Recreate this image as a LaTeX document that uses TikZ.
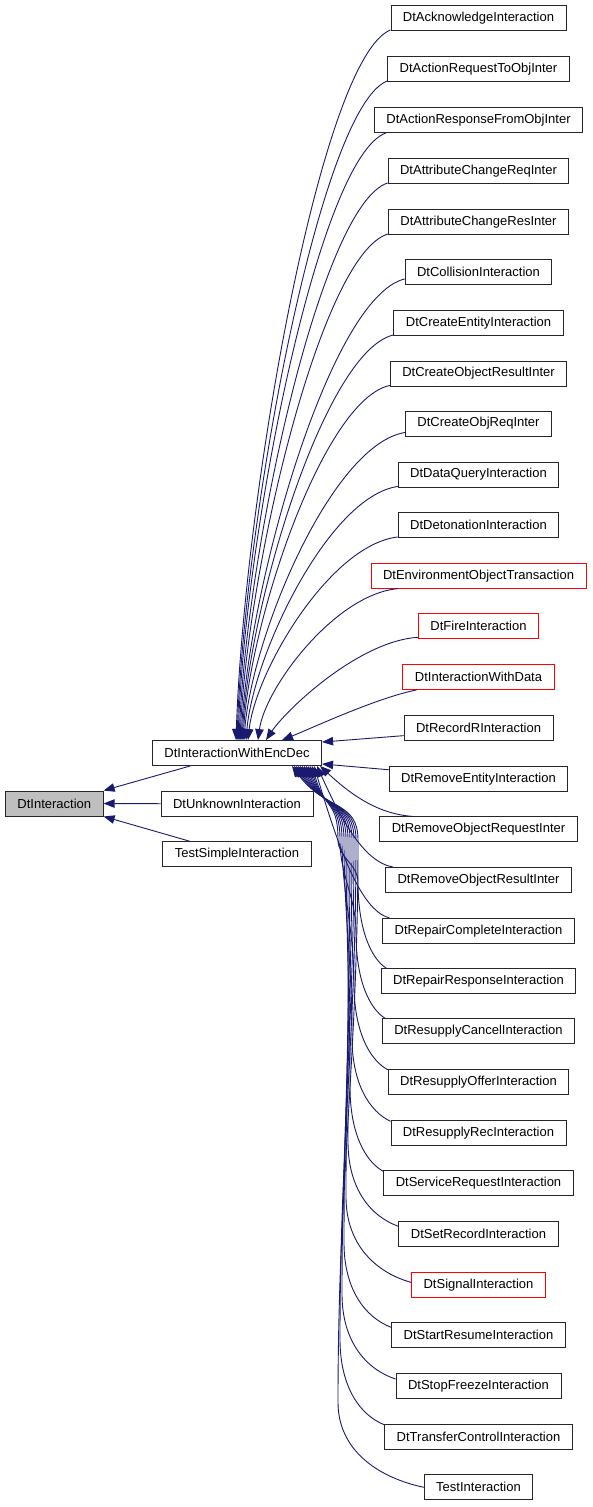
\documentclass[tikz,border=0pt]{standalone}
\usepackage{fontspec}
\setmainfont{Liberation Sans}
\usetikzlibrary{arrows.meta,calc}
\definecolor{edgeblue}{RGB}{25,25,112}
\definecolor{basegray}{RGB}{191,191,191}
\begin{document}
\begin{tikzpicture}[x=1pt,y=1pt,
  cls/.style={draw=black!85, line width=0.9pt, minimum height=25pt, inner xsep=12pt, inner ysep=0pt, font=\fontsize{13pt}{15pt}\selectfont, text=black},
  redcls/.style={cls, draw=red},
  edge/.style={draw=edgeblue, line width=0.9pt, -{Triangle[length=11pt,width=8.5pt]}}
]
\useasboundingbox (0,0) rectangle (592,-1507);
% left part
\node[cls, fill=basegray] (A) at (54.3,-803.5) {DtInteraction};
\node[cls] (E) at (237,-753) {DtInteractionWithEncDec};
\node[cls] (U) at (237,-803.7) {DtUnknownInteraction};
\node[cls] (S) at (237,-854.3) {TestSimpleInteraction};
% right column
\node[cls] (b1) at (478.5,-18) {DtAcknowledgeInteraction};
\node[cls] (b2) at (478.5,-69) {DtActionRequestToObjInter};
\node[cls] (b3) at (478.5,-120) {DtActionResponseFromObjInter};
\node[cls] (b4) at (478.5,-171) {DtAttributeChangeReqInter};
\node[cls] (b5) at (478.5,-222) {DtAttributeChangeResInter};
\node[cls] (b6) at (478.5,-272) {DtCollisionInteraction};
\node[cls] (b7) at (478.5,-323) {DtCreateEntityInteraction};
\node[cls] (b8) at (478.5,-373.5) {DtCreateObjectResultInter};
\node[cls] (b9) at (478.5,-423.5) {DtCreateObjReqInter};
\node[cls] (b10) at (478.5,-474.5) {DtDataQueryInteraction};
\node[cls] (b11) at (478.5,-525) {DtDetonationInteraction};
\node[redcls] (b12) at (478.5,-575.7) {DtEnvironmentObjectTransaction};
\node[redcls] (b13) at (478.5,-626.3) {DtFireInteraction};
\node[redcls] (b14) at (478.5,-677) {DtInteractionWithData};
\node[cls] (b15) at (478.5,-727.7) {DtRecordRInteraction};
\node[cls] (b16) at (478.5,-778.7) {DtRemoveEntityInteraction};
\node[cls] (b17) at (478.5,-829.3) {DtRemoveObjectRequestInter};
\node[cls] (b18) at (478.5,-880) {DtRemoveObjectResultInter};
\node[cls] (b19) at (478.5,-930.7) {DtRepairCompleteInteraction};
\node[cls] (b20) at (478.5,-981.3) {DtRepairResponseInteraction};
\node[cls] (b21) at (478.5,-1031.3) {DtResupplyCancelInteraction};
\node[cls] (b22) at (478.5,-1081.7) {DtResupplyOfferInteraction};
\node[cls] (b23) at (478.5,-1133.3) {DtResupplyRecInteraction};
\node[cls] (b24) at (478.5,-1183.3) {DtServiceRequestInteraction};
\node[cls] (b25) at (478.5,-1234.3) {DtSetRecordInteraction};
\node[redcls] (b26) at (478.5,-1285.3) {DtSignalInteraction};
\node[cls] (b27) at (478.5,-1335.3) {DtStartResumeInteraction};
\node[cls] (b28) at (478.5,-1386) {DtStopFreezeInteraction};
\node[cls] (b29) at (478.5,-1436.7) {DtTransferControlInteraction};
\node[cls] (b30) at (478.5,-1487.3) {TestInteraction};
% edges to DtInteraction
\draw[edge] ($(E.south west)+(38.3,0)$) -- (A.north east);
\draw[edge] (U.west) -- (A.east);
\draw[edge] ($(S.north west)+(27.7,0)$) -- (A.south east);
% upper edges
\draw[edge] ($(b1.south west)+(0,1)$) .. controls +(-70,-28) and +(8,242) .. ($(E.north)+(-1,0)$);
\draw[edge] ($(b2.south west)+(0,1)$) .. controls +(-67,-26) and +(7.5,224) .. ($(E.north)+(0,0)$);
\draw[edge] ($(b3.south west)+(12,0)$) .. controls +(-67,-24) and +(7,207) .. ($(E.north)+(1,0)$);
\draw[edge] ($(b4.south west)+(0,1)$) .. controls +(-67,-22) and +(7.5,190) .. ($(E.north)+(2,0)$);
\draw[edge] ($(b5.south west)+(0,1)$) .. controls +(-67,-20) and +(7.5,172) .. ($(E.north)+(3,0)$);
\draw[edge] ($(b6.south west)+(0,6)$) .. controls +(-74,-18) and +(8,157) .. ($(E.north)+(4,0)$);
\draw[edge] ($(b7.south west)+(0,1)$) .. controls +(-68,-16) and +(7.5,138) .. ($(E.north)+(5,0)$);
\draw[edge] ($(b8.south west)+(0,1)$) .. controls +(-66,-14) and +(7,121) .. ($(E.north)+(6,0)$);
\draw[edge] ($(b9.south west)+(0,4)$) .. controls +(-73,-12) and +(8,105) .. ($(E.north)+(7,0)$);
\draw[edge] ($(b10.south west)+(0,1)$) .. controls +(-69,-10) and +(7.5,86) .. ($(E.north)+(9,0)$);
\draw[edge] ($(b11.south west)+(0,1)$) .. controls +(-68,-8) and +(7.5,69) .. ($(E.north)+(11,0)$);
\draw[edge] ($(b12.south west)+(27,0)$) .. controls +(-63,-6) and +(7,52) .. ($(E.north)+(21,0)$);
\draw[edge] ($(b13.south west)+(0,2)$) .. controls +(-60,-4) and +(20,30) .. ($(E.north)+(29,0)$);
\draw[edge] ($(b14.south west)+(14,0)$) .. controls +(-40,-8) and +(30,12) .. ($(E.north)+(45,0)$);
% side edges
\draw[edge] ($(b15.south west)+(0,5)$) -- ($(E.north east)+(0,-2)$);
\draw[edge] ($(b16.north west)+(0,-4)$) -- ($(E.south east)+(0,2)$);
% lower edges
\draw[edge] ($(b17.north west)+(33,0)$) .. controls +(-37,2.5) and +(27.5,-25.5) .. ($(E.south)+(83,0)$);
\draw[edge] ($(b18.north west)+(8,0)$) .. controls +(-30,5) and +(23,-51) .. ($(E.south)+(80,0)$);
\draw[edge] ($(b19.north west)+(7,0)$) .. controls +(-30,7.5) and +(23,-76) .. ($(E.south)+(77,0)$);
\draw[edge] ($(b20.north west)+(5.7,0)$) .. controls +(-15.8,10) and +(0,-47) .. (358,-881.7) .. controls +(0,17) and +(0,-17) .. (338,-840) .. controls +(0,40) and +(13,-45) .. ($(E.south)+(75,0)$);
\draw[edge] ($(b21.north west)+(3.3,0)$) .. controls +(-16,10) and +(0,-47) .. (356,-933) .. controls +(0,37) and +(0,-37) .. (340,-840) .. controls +(0,40) and +(15,-45) .. ($(E.south)+(73,0)$);
\draw[edge] ($(b22.north west)+(0,-1)$) .. controls +(-18.5,10) and +(0,-47) .. (354,-983.7) .. controls +(0,57) and +(0,-57) .. (342,-840) .. controls +(0,40) and +(17,-45) .. ($(E.south)+(71,0)$);
\draw[edge] ($(b23.north west)+(0,-1)$) .. controls +(-21,10) and +(0,-47) .. (352,-1037) .. controls +(0,79) and +(0,-79) .. (344,-840) .. controls +(0,40) and +(19,-45) .. ($(E.south)+(69,0)$);
\draw[edge] ($(b24.north west)+(0,-1)$) .. controls +(-18,10) and +(0,-47) .. (350,-1086.7) .. controls +(0,99) and +(0,-99) .. (346,-840) .. controls +(0,40) and +(21,-45) .. ($(E.south)+(67,0)$);
\draw[edge] ($(b25.north west)+(0,-5)$) .. controls +(-28,10) and +(0,-47) .. (348,-1141.7) .. controls +(0,121) and +(0,-121) .. (348,-840) .. controls +(0,40) and +(23,-45) .. ($(E.south)+(65,0)$);
\draw[edge] ($(b26.north west)+(0,-10)$) .. controls +(-36,10) and +(0,-47) .. (346,-1197) .. controls +(0,143) and +(0,-143) .. (350,-840) .. controls +(0,40) and +(25,-45) .. ($(E.south)+(63,0)$);
\draw[edge] ($(b27.north west)+(0,-5)$) .. controls +(-26,10) and +(0,-47) .. (344,-1242.7) .. controls +(0,161) and +(0,-161) .. (352,-840) .. controls +(0,40) and +(27,-45) .. ($(E.south)+(61,0)$);
\draw[edge] ($(b28.north west)+(0,-6)$) .. controls +(-30,10) and +(0,-47) .. (342,-1294) .. controls +(0,182) and +(0,-182) .. (354,-840) .. controls +(0,40) and +(29,-45) .. ($(E.south)+(59,0)$);
\draw[edge] ($(b29.north west)+(0,-1)$) .. controls +(-25,10) and +(0,-47) .. (340,-1339) .. controls +(0,200) and +(0,-200) .. (356,-840) .. controls +(0,40) and +(31,-45) .. ($(E.south)+(57,0)$);
\draw[edge] (b30.west) .. controls +(-47,10) and +(0,-47) .. (338,-1402.3) .. controls +(0,225) and +(0,-225) .. (358,-840) .. controls +(0,40) and +(33,-45) .. ($(E.south)+(55,0)$);
\end{tikzpicture}
\end{document}
